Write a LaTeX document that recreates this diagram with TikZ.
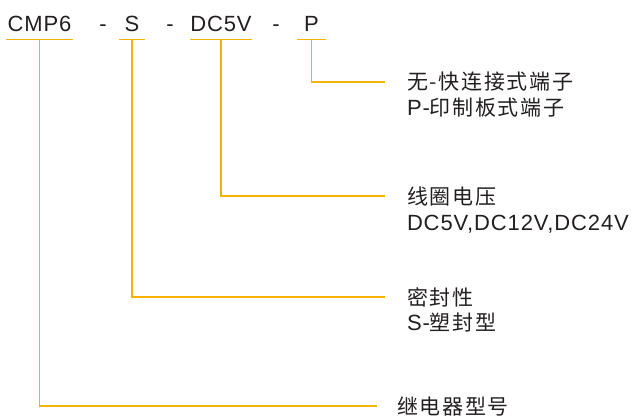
\documentclass[tikz,border=0pt]{standalone}
\usepackage{fontspec}
\setmainfont{Liberation Sans}
\newfontfamily\cjk[LetterSpace=8]{Noto Sans CJK SC}
\newfontfamily\lat[LetterSpace=4]{Liberation Sans}
\definecolor{leadcol}{RGB}{245,178,0}
\definecolor{textcol}{RGB}{35,31,32}

\begin{document}
\begin{tikzpicture}[x=1pt,y=-1pt]
\tikzstyle{every path}=[line width=1.5pt]
\tikzstyle{code}=[inner sep=0pt,minimum height=30pt,text height=16pt,text depth=0pt,
  text=textcol,font=\fontsize{22}{26}\selectfont\lat]
\tikzstyle{lbl}=[anchor=west,inner sep=0pt,outer xsep=22pt,text height=16pt,text depth=0pt,
  text=textcol,font=\fontsize{21}{25}\selectfont\cjk]
\tikzstyle{lead}=[draw=leadcol]
\useasboundingbox (0,0) rectangle (642,417);
% model code
\node [code,minimum width=65pt] at (39.5,24) (cmp) {CMP6};
\node [code] at (103,24) (dasha) {-};
\node [code,minimum width=24pt] at (132,24) (seal) {S};
\node [code] at (170,24) (dashb) {-};
\node [code,minimum width=55pt] at (221,24) (volt) {DC5V};
\node [code] at (276,24) (dashc) {-};
\node [code,minimum width=27pt] at (311.5,24) (term) {P};
% explanations
\node [lbl] at (385,82) (terma) {无-快连接式端子};
\node [lbl] at (385,108) (termb) {{\fontsize{22}{25}\selectfont\lat P-}印制板式端子};
\node [lbl] at (385,196) (volta) {线圈电压};
\node [lbl] at (385,222) (voltb) {\fontsize{22}{25}\selectfont\lat DC5V,DC12V,DC24V};
\node [lbl] at (385,297) (seala) {密封性};
\node [lbl] at (385,322) (sealb) {{\fontsize{22}{25}\selectfont\lat S-}塑封型};
\node [lbl,outer xsep=20pt] at (377,406) (type) {继电器型号};
% leaders
\foreach \c/\l in {cmp/type,seal/seala,volt/volta,term/terma}{
  \draw [lead] (\c.south west) -- (\c.south east);
  \draw [lead] (\c.south) |- (\l.west);
}
\end{tikzpicture}
\end{document}
